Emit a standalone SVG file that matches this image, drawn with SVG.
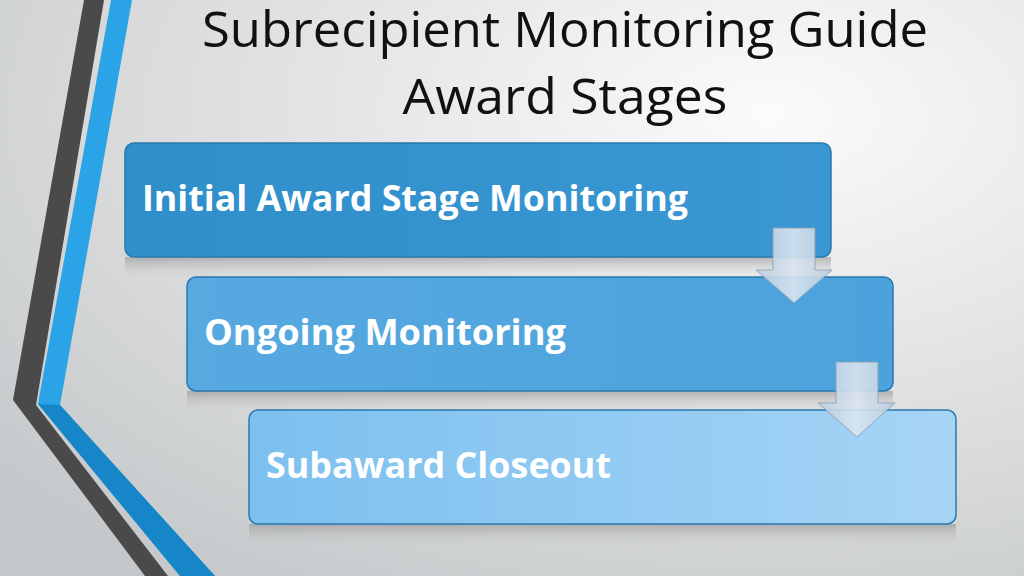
<svg xmlns="http://www.w3.org/2000/svg" width="1024" height="576" viewBox="0 0 1024 576">
<defs>
<radialGradient id="bg" cx="0.75" cy="0.2" r="1">
<stop offset="0" stop-color="#fbfbfb"/><stop offset="1" stop-color="#c4c7c9"/>
</radialGradient>
<linearGradient id="b1" x1="0" y1="0" x2="1" y2="0"><stop offset="0" stop-color="#2f8fcb"/><stop offset="1" stop-color="#3a97d3"/></linearGradient>
<linearGradient id="b2" x1="0" y1="0" x2="1" y2="0"><stop offset="0" stop-color="#57a9e0"/><stop offset="1" stop-color="#4ca2dc"/></linearGradient>
<linearGradient id="b3" x1="0" y1="0" x2="1" y2="0"><stop offset="0" stop-color="#7cc0ef"/><stop offset="1" stop-color="#a6d4f5"/></linearGradient>
<linearGradient id="sh" x1="0" y1="0" x2="0" y2="1"><stop offset="0" stop-color="#9a9c9e" stop-opacity="0.7"/><stop offset="1" stop-color="#c8c9ca" stop-opacity="0"/></linearGradient>
<linearGradient id="ar" x1="0" y1="0" x2="1" y2="0"><stop offset="0" stop-color="#b9cde0"/><stop offset="0.5" stop-color="#dbe6f0"/><stop offset="1" stop-color="#b9cde0"/></linearGradient>
<style>
.box{stroke:#2a78ad;stroke-width:1.5}
.lbl{font-family:"Open Sans","Liberation Sans",sans-serif;font-weight:bold;font-size:35px;fill:#fff}
.ttl{font-family:"Open Sans","Liberation Sans",sans-serif;font-size:50px;fill:#111;text-anchor:middle}
.arrow{fill:url(#ar);stroke:#8fa3b5;stroke-width:1;opacity:0.9}
</style>
</defs>
<rect width="1024" height="576" fill="url(#bg)"/>
<polygon points="84,0 104,0 36,405 168,576 145,576 13,400" fill="#4a4a4b"/>
<polygon points="111,0 132,0 60,405 215,576 180,576 38,404" fill="#2aa4e6"/>
<polygon points="38,404 60,405 215,576 180,576" fill="#1786c8"/>
<text class="ttl" x="565" y="47" textLength="726" lengthAdjust="spacingAndGlyphs">Subrecipient Monitoring Guide</text>
<text class="ttl" x="565" y="114" textLength="325" lengthAdjust="spacingAndGlyphs">Award Stages</text>
<rect x="125" y="257" width="706" height="20" fill="url(#sh)"/>
<rect x="187" y="391" width="706" height="20" fill="url(#sh)"/>
<rect x="249" y="524" width="707" height="22" fill="url(#sh)"/>
<g id="n1"><rect class="box" x="125" y="143" width="706" height="114" rx="9" fill="url(#b1)"/><text class="lbl" x="142" y="211" textLength="546" lengthAdjust="spacingAndGlyphs">Initial Award Stage Monitoring</text></g>
<g id="n2"><rect class="box" x="187" y="277" width="706" height="114" rx="9" fill="url(#b2)"/><text class="lbl" x="204" y="345" textLength="362" lengthAdjust="spacingAndGlyphs">Ongoing Monitoring</text></g>
<g id="n3"><rect class="box" x="249" y="410" width="707" height="114" rx="9" fill="url(#b3)"/><text class="lbl" x="266" y="478" textLength="345" lengthAdjust="spacingAndGlyphs">Subaward Closeout</text></g>
<g id="connectors">
<polygon class="arrow" points="773,228 815,228 815,270 832,270 794,303 756,270 773,270"/>
<polygon class="arrow" points="836,362 878,362 878,403 895,403 857,437 818,403 836,403"/>
</g>
</svg>
